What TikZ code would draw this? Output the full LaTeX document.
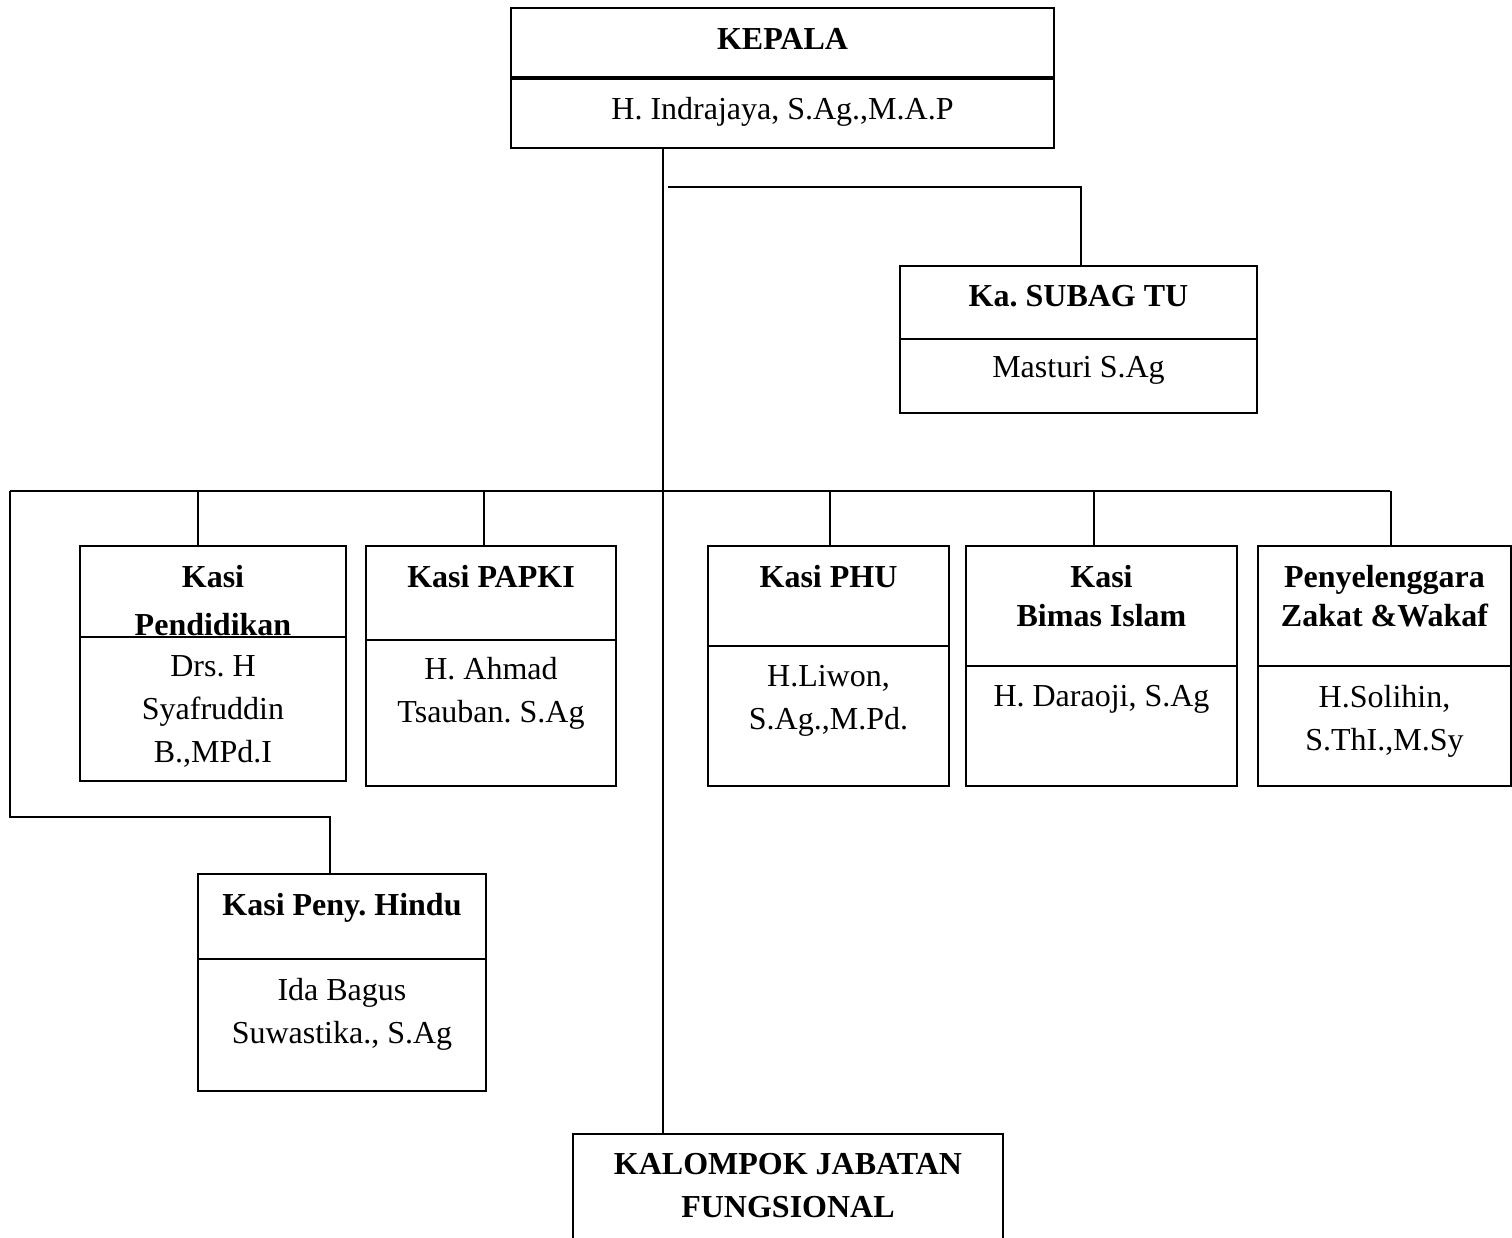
\documentclass[tikz,border=0pt]{standalone}
\usepackage{fontspec}
\setmainfont{Liberation Serif}
\usetikzlibrary{positioning}
\frenchspacing

\begin{document}
\begin{tikzpicture}[x=0.5pt, y=-0.5pt, every node/.style = {font=\fontsize{16}{21.5}\selectfont, align=center, inner sep=0pt},
  box part/.style = {draw, rectangle, fill=white, line width=1pt, anchor=north west},
  head text/.style = {font=\fontsize{16}{21.5}\selectfont\bfseries},
  black edge/.style = {-, line width=1pt, black}]
\useasboundingbox (0,0) rectangle (1512,1238);
% kepala
\node[box part, minimum width=271.5pt, minimum height=34.5pt] (kepalaT) at (510,7) {};
  \node[head text, below=10.5pt of kepalaT.north] (kepalaTx) {KEPALA};
\node[box part, minimum width=271.5pt, minimum height=34.5pt] (kepalaN) at (510,78) {};
  \node[below=9.5pt of kepalaN.north] (kepalaNx) {H. Indrajaya, S.Ag.,M.A.P};
% subag
\node[box part, minimum width=178.5pt, minimum height=36.5pt] (subagT) at (899,265) {};
  \node[head text, below=10pt of subagT.north] (subagTx) {Ka. SUBAG TU};
\node[box part, minimum width=178.5pt, minimum height=37pt] (subagN) at (899,338) {};
  \node[below=9pt of subagN.north] (subagNx) {Masturi S.Ag};
% kasi row
\node[box part, minimum width=133pt, minimum height=45.5pt] (pendT) at (79,545) {};
  \node[head text, below=10pt of pendT.north] (pendTx) {Kasi\\[2.5pt] Pendidikan};
\node[box part, minimum width=133pt, minimum height=72pt] (pendN) at (79,636) {};
  \node[below=9.5pt of pendN.north] (pendNx) {Drs. H\\ Syafruddin\\ B.,MPd.I};
\node[box part, minimum width=125pt, minimum height=47pt] (papkiT) at (365,545) {};
  \node[head text, below=10pt of papkiT.north] (papkiTx) {Kasi PAPKI};
\node[box part, minimum width=125pt, minimum height=73pt] (papkiN) at (365,639) {};
  \node[below=9pt of papkiN.north] (papkiNx) {H. Ahmad\\ Tsauban. S.Ag};
\node[box part, minimum width=120.5pt, minimum height=50pt] (phuT) at (707,545) {};
  \node[head text, below=10pt of phuT.north] (phuTx) {Kasi PHU};
\node[box part, minimum width=120.5pt, minimum height=70pt] (phuN) at (707,645) {};
  \node[below=10pt of phuN.north] (phuNx) {H.Liwon,\\ S.Ag.,M.Pd.};
\node[box part, minimum width=135.5pt, minimum height=60pt] (bimasT) at (965,545) {};
  \node[head text, below=10pt of bimasT.north] (bimasTx) {Kasi\\[-2pt] Bimas Islam};
\node[box part, minimum width=135.5pt, minimum height=60pt] (bimasN) at (965,665) {};
  \node[below=10pt of bimasN.north] (bimasNx) {H. Daraoji, S.Ag};
\node[box part, minimum width=126.5pt, minimum height=60pt] (zakatT) at (1257,545) {};
  \node[head text, below=10pt of zakatT.north] (zakatTx) {Penyelenggara\\[-2pt] Zakat \&Wakaf};
\node[box part, minimum width=126.5pt, minimum height=60pt] (zakatN) at (1257,665) {};
  \node[below=10pt of zakatN.north] (zakatNx) {H.Solihin,\\ S.ThI.,M.Sy};
% hindu
\node[box part, minimum width=144pt, minimum height=42.5pt] (hinduT) at (197,873) {};
  \node[head text, below=10pt of hinduT.north] (hinduTx) {Kasi Peny. Hindu};
\node[box part, minimum width=144pt, minimum height=66pt] (hinduN) at (197,958) {};
  \node[below=10pt of hinduN.north] (hinduNx) {Ida Bagus\\ Suwastika., S.Ag};
% fungsional
\node[box part, minimum width=215pt, minimum height=83.5pt] (kjf) at (572,1133) {};
  \node[head text, below=10pt of kjf.north] (kjfx) {KALOMPOK JABATAN\\ FUNGSIONAL};
% lines
\coordinate (spine) at (663,147);
\coordinate (tu) at (668,187);
\coordinate (busL) at (10,491);
\coordinate (busR) at (1390,491);
\coordinate (hinduTurn) at (10,817);
\draw[black edge] (spine) -- (spine |- kjf.north);
\draw[black edge] (tu) -| ([xshift=1.25pt]subagT.north);
\draw[black edge] (busL) -- (busR);
\foreach \n/\dx in {pendT/-7.5, papkiT/-3.5, phuT/0.75, bimasT/-3.75, zakatT/3.25}
  { \draw[black edge] ([xshift=\dx pt]\n.north) -- ([xshift=\dx pt]\n.north |- busL); }
\draw[black edge] (busL) -- (hinduTurn) -| ([xshift=-6pt]hinduT.north);
\end{tikzpicture}
\end{document}
